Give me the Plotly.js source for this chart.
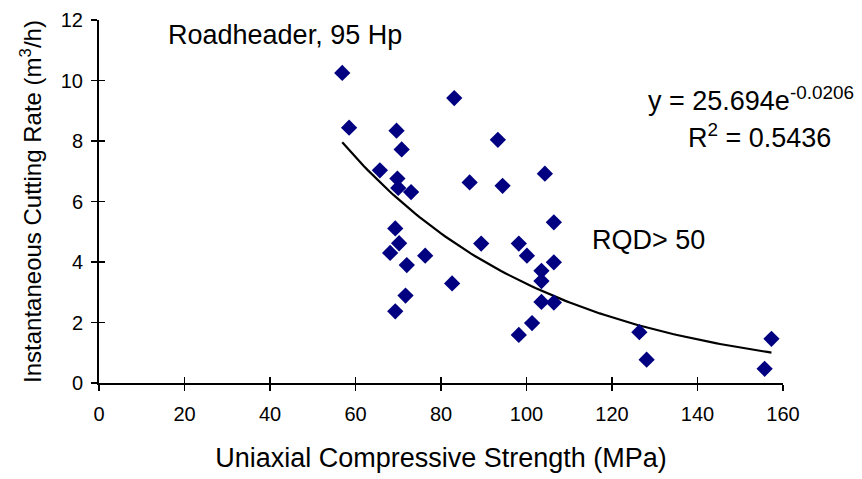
<!DOCTYPE html>
<html><head><meta charset="utf-8">
<script src="https://cdn.plot.ly/plotly-3.0.1.min.js"></script>
<style>html,body{margin:0;padding:0;background:#fff}#chart{width:862px;height:479px}</style>
</head><body><div id="chart"></div>
<script>
// Uniaxial Compressive Strength (MPa)
const ucs = [56.9, 83.1, 58.5, 69.6, 93.3, 70.8, 65.7, 69.8, 70.0, 73.0, 86.7, 94.4, 104.3, 106.4, 69.3, 70.2, 68.1, 72.0, 76.3, 89.4, 98.2, 100.1, 106.4, 103.5, 103.5, 82.6, 71.7, 103.5, 106.4, 69.3, 101.3, 98.2, 126.4, 128.1, 157.3, 155.7];
// Instantaneous Cutting Rate (m3/h)
const icr = [10.25, 9.42, 8.44, 8.34, 8.04, 7.72, 7.03, 6.76, 6.45, 6.31, 6.63, 6.52, 6.92, 5.31, 5.11, 4.62, 4.30, 3.90, 4.21, 4.61, 4.61, 4.21, 3.99, 3.71, 3.37, 3.29, 2.89, 2.68, 2.66, 2.37, 1.98, 1.59, 1.68, 0.77, 1.46, 0.47];
// Trendline coefficients shown on chart: y = a * e^(b x)
const fitA = 25.694, fitB = -0.0206;
const xTicks = [0, 20, 40, 60, 80, 100, 120, 140, 160];
const yTicks = [0, 2, 4, 6, 8, 10, 12];

const xmin = Math.min(...ucs), xmax = Math.max(...ucs);
const fx = [], fy = [];
for (let i = 0; i <= 100; i++) {
  const x = xmin + (xmax - xmin) * i / 100;
  fx.push(x); fy.push(fitA * Math.exp(fitB * x));
}

const font = {family: 'Arial, "Liberation Sans", sans-serif', color: '#000'};
const f = s => Object.assign({size: s}, font);
const data = [
  {x: fx, y: fy, mode: 'lines', line: {color: '#000', width: 2.2}, hoverinfo: 'skip', showlegend: false},
  {x: ucs, y: icr, mode: 'markers', marker: {symbol: 'diamond', size: 12.5, color: '#000080'}, showlegend: false},
  {x: [0], y: [0], xaxis: 'x2', yaxis: 'y2', mode: 'markers', marker: {opacity: 0}, hoverinfo: 'skip', showlegend: false}
];
const layout = {
  width: 862, height: 479,
  margin: {l: 99, r: 79, t: 20, b: 96},
  paper_bgcolor: '#fff', plot_bgcolor: '#fff',
  font: f(20),
  xaxis: {range: [0, 160], tickvals: xTicks, ticktext: xTicks.map(String), showgrid: false, zeroline: false,
    showline: true, linecolor: '#000', linewidth: 2, ticks: 'outside', ticklen: 6, tickwidth: 1.5, tickcolor: '#000',
    ticklabelstandoff: 6, tickfont: f(20),
    title: {text: 'Uniaxial Compressive Strength (MPa)', font: f(27), standoff: 24}},
  yaxis: {range: [0, 12], tickvals: yTicks, ticktext: yTicks.map(String), showgrid: false, zeroline: false,
    showline: true, linecolor: '#000', linewidth: 2, ticks: 'outside', ticklen: 6, tickwidth: 1.5, tickcolor: '#000',
    ticklabelstandoff: 4, tickfont: f(20),
    title: {text: 'Instantaneous Cutting Rate (m<sup>3</sup>/h)', font: f(24), standoff: 12}},
  xaxis2: {overlaying: 'x', range: [0, 160], tickvals: xTicks, showticklabels: false, showgrid: false, zeroline: false,
    ticks: 'inside', ticklen: 6, tickwidth: 1.5, tickcolor: '#000', anchor: 'y2', side: 'bottom'},
  yaxis2: {overlaying: 'y', range: [0, 12], tickvals: yTicks, showticklabels: false, showgrid: false, zeroline: false,
    ticks: 'inside', ticklen: 6, tickwidth: 1.5, tickcolor: '#000', anchor: 'x2', side: 'left'},
  annotations: [
    {x: 15.6, y: 11.5, xref: 'x', yref: 'y', text: 'Roadheader, 95 Hp', showarrow: false, xanchor: 'left', yanchor: 'middle', font: f(27)},
    {x: 128.0, y: 9.38, xref: 'x', yref: 'y', text: 'y = 25.694e<sup>-0.0206</sup>', showarrow: false, xanchor: 'left', yanchor: 'middle', font: f(27)},
    {x: 137.3, y: 8.15, xref: 'x', yref: 'y', text: 'R<sup>2</sup> = 0.5436', showarrow: false, xanchor: 'left', yanchor: 'middle', font: f(27)},
    {x: 114.9, y: 4.72, xref: 'x', yref: 'y', text: 'RQD> 50', showarrow: false, xanchor: 'left', yanchor: 'middle', font: f(27)}
  ]
};
Plotly.newPlot('chart', data, layout, {displayModeBar: false, staticPlot: true});
</script></body></html>
